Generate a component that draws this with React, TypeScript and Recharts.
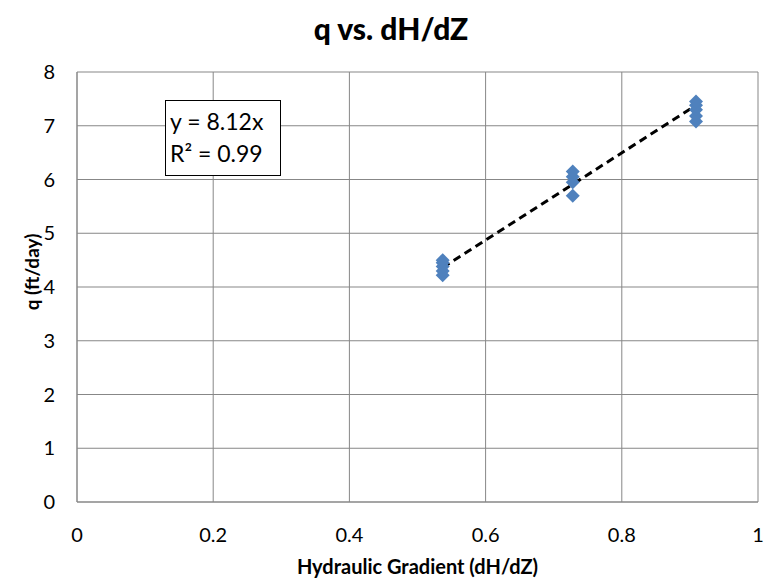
import {
  CartesianGrid,
  Scatter,
  ScatterChart,
  XAxis,
  YAxis,
} from "recharts";

const gradients = [
  0.537, 0.537, 0.537, 0.537, 0.537,
  0.728, 0.728, 0.728, 0.728,
  0.909, 0.909, 0.909, 0.909, 0.909,
];
const flux = [
  4.22, 4.3, 4.38, 4.45, 4.5,
  5.7, 5.95, 6.05, 6.15,
  7.08, 7.18, 7.3, 7.38, 7.45,
];
const slope = 8.12;
const rSquared = 0.99;
const xTicks = [0, 0.2, 0.4, 0.6, 0.8, 1];
const yTicks = [0, 1, 2, 3, 4, 5, 6, 7, 8];

const FONT = "Lato, 'Open Sans', sans-serif";
const GRID = "#878787";

const points = gradients.map((x, i) => ({ x, y: flux[i] }));
const xMin = Math.min(...gradients);
const xMax = Math.max(...gradients);
const trend = [
  { x: xMin, y: slope * xMin },
  { x: xMax, y: slope * xMax },
];

const Diamond = (props: any) => {
  const { cx, cy } = props;
  if (cx == null || cy == null) return null;
  const r = 7;
  return (
    <path
      d={`M${cx},${cy - r} L${cx + r},${cy} L${cx},${cy + r} L${cx - r},${cy} Z`}
      fill="#4F81BD"
    />
  );
};

const NoDot = () => null;

const XTitle = (props: any) => {
  const { viewBox } = props;
  return (
    <text
      x={viewBox.x + viewBox.width / 2}
      y={574}
      textAnchor="middle"
      style={{ fontFamily: FONT, fontSize: 20, fontWeight: 700, fill: "#000" }}
    >
      Hydraulic Gradient (dH/dZ)
    </text>
  );
};

const YTitle = () => {
  const bx = 39;
  const cy = 272;
  return (
    <text
      x={bx}
      y={cy}
      transform={`rotate(-90 ${bx} ${cy})`}
      textAnchor="middle"
      style={{ fontFamily: FONT, fontSize: 19, fontWeight: 700, fill: "#000" }}
    >
      q (ft/day)
    </text>
  );
};

export default function App() {
  return (
    <div
      style={{
        position: "absolute",
        left: 0,
        top: 0,
        width: 765,
        height: 584,
        background: "#fff",
        fontFamily: FONT,
      }}
    >
      <div
        style={{
          position: "absolute",
          left: 0,
          width: 765,
          top: 10,
          textAlign: "center",
          fontWeight: 900,
          fontSize: 30,
          color: "#000",
          paddingLeft: 17,
          boxSizing: "border-box",
        }}
      >
        q vs. dH/dZ
      </div>
      <ScatterChart
        width={765}
        height={584}
        margin={{ top: 72, right: 7, bottom: 0, left: 0 }}
        style={{ position: "absolute", left: 0, top: 0 }}
      >
        <CartesianGrid stroke={GRID} strokeWidth={1} />
        <XAxis
          type="number"
          dataKey="x"
          domain={[0, 1]}
          ticks={xTicks}
          height={82}
          stroke={GRID}
          tickLine={false}
          tickMargin={20}
          tick={{ fill: "#000", fontSize: 20, fontFamily: FONT }}
          label={<XTitle />}
        />
        <YAxis
          type="number"
          dataKey="y"
          domain={[0, 8]}
          ticks={yTicks}
          width={77}
          stroke={GRID}
          tickLine={false}
          tickMargin={16}
          tick={{ fill: "#000", fontSize: 20, fontFamily: FONT }}
          label={<YTitle />}
        />
        <Scatter
          data={trend}
          line={{ stroke: "#000", strokeWidth: 3, strokeDasharray: "8 5" }}
          shape={NoDot}
          isAnimationActive={false}
        />
        <Scatter data={points} shape={Diamond} isAnimationActive={false} />
      </ScatterChart>
      <div
        style={{
          position: "absolute",
          left: 165,
          top: 100,
          width: 116,
          height: 76,
          boxSizing: "border-box",
          border: "1.5px solid #000",
          background: "#fff",
          fontSize: 23,
          lineHeight: "32px",
          padding: "4px 0 0 4px",
          color: "#000",
          whiteSpace: "nowrap",
        }}
      >
        <div>y = {slope}x</div>
        <div>R² = {rSquared}</div>
      </div>
    </div>
  );
}
